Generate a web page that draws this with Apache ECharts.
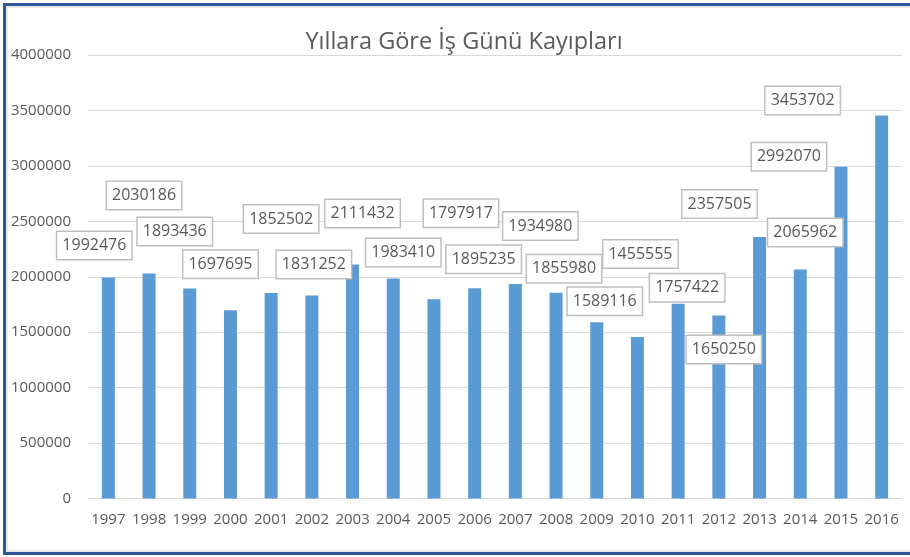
<!DOCTYPE html>
<html>
<head>
<meta charset="utf-8">
<script src="https://cdn.jsdelivr.net/npm/echarts@6/dist/echarts.min.js"></script>
<style>
  html, body { margin: 0; padding: 0; background: #fff; }
  #chart { width: 910px; height: 557px; }
</style>
</head>
<body>
<div id="chart"></div>
<script>
// Yearly lost work days
const years = ['1997','1998','1999','2000','2001','2002','2003','2004','2005','2006',
               '2007','2008','2009','2010','2011','2012','2013','2014','2015','2016'];
const lostDays = [1992476, 2030186, 1893436, 1697695, 1852502, 1831252, 2111432, 1983410, 1797917, 1895235,
                  1934980, 1855980, 1589116, 1455555, 1757422, 1650250, 2357505, 2065962, 2992070, 3453702];
const yTicks = { min: 0, max: 4000000, step: 500000 };

// Hand-placed value boxes: [dx, dy] in px from each bar's top centre
const labelShift = [
  [-14, -32], [-5, -78], [-15, -57], [-10, -46], [10, -74],
  [2, -31], [10, -51], [10, -26], [27, -86], [9, -29],
  [25, -58], [8, -24], [8, -21], [3, -83], [9, -16],
  [5, 34], [-40, -33], [5, -37], [-52, -10], [-79, -15]
];

const font = 'Open Sans';
const chart = echarts.init(document.getElementById('chart'), null, { renderer: 'canvas' });

chart.setOption({
  animation: false,
  backgroundColor: '#ffffff',
  title: {
    text: 'Yıllara Göre İş Günü Kayıpları',
    left: 459, top: 25, textAlign: 'center',
    textStyle: { fontFamily: font, fontSize: 23.5, fontWeight: 'normal', color: '#595959' }
  },
  grid: { left: 88, right: 8, top: 55, bottom: 58.5, containLabel: false },
  xAxis: {
    type: 'category',
    data: years,
    axisLine: { show: true, lineStyle: { color: '#d9d9d9', width: 1 } },
    axisTick: { show: false },
    axisLabel: { interval: 0, color: '#595959', fontFamily: font, fontSize: 15, margin: 14 }
  },
  yAxis: {
    type: 'value',
    min: yTicks.min, max: yTicks.max, interval: yTicks.step,
    axisLine: { show: false },
    axisTick: { show: false },
    splitLine: { lineStyle: { color: '#d9d9d9', width: 1 } },
    axisLabel: {
      color: '#595959', fontFamily: font, fontSize: 15, margin: 17,
      formatter: v => String(v)
    }
  },
  series: [{
    type: 'bar',
    barWidth: 13,
    itemStyle: { color: '#5b9bd5' },
    data: lostDays.map((v, i) => ({
      value: v,
      label: { offset: labelShift[i] }
    })),
    label: {
      show: true,
      position: 'top',
      distance: 0,
      align: 'center',
      verticalAlign: 'middle',
      fontFamily: font,
      fontSize: 16,
      lineHeight: 19,
      color: '#595959',
      backgroundColor: '#ffffff',
      borderColor: '#bfbfbf',
      borderWidth: 1.5,
      padding: [4, 5, 4, 5]
    }
  }],
  graphic: [
    {
      type: 'rect', silent: true, z: 100,
      shape: { x: 7, y: 7, width: 920, height: 544 },
      style: { fill: null, stroke: '#d0d0d0', lineWidth: 1 }
    },
    {
      type: 'rect', silent: true, z: 101,
      shape: { x: 4.5, y: 4.5, width: 920, height: 549 },
      style: { fill: null, stroke: '#2e5596', lineWidth: 3 }
    }
  ]
});
</script>
</body>
</html>
